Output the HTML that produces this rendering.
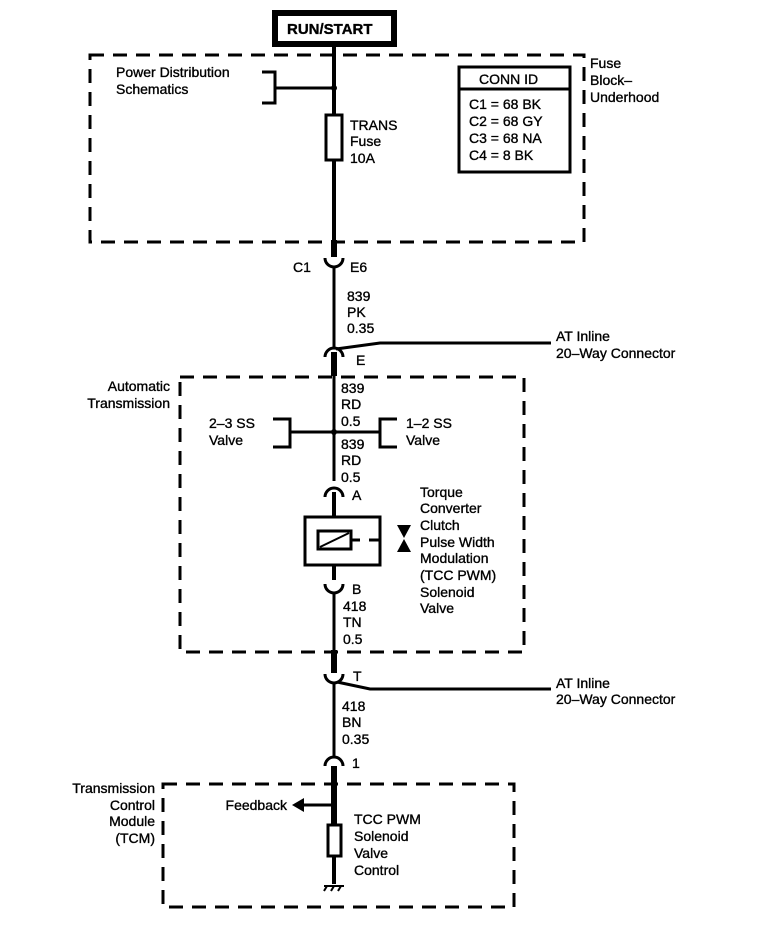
<!DOCTYPE html>
<html><head><style>
body{margin:0;background:#fff}
svg text{font-family:"Liberation Sans",Arial,sans-serif;font-size:14px;fill:#000;stroke:#000;stroke-width:0.35}
</style></head><body>
<svg width="768" height="920" viewBox="0 0 768 920" xmlns="http://www.w3.org/2000/svg">
<g fill="none" stroke="#000">
<rect x="275" y="13" width="119" height="31" stroke-width="6"/>
<rect x="90" y="55" width="494" height="187" stroke-width="3" stroke-dasharray="14,9"/>
<rect x="180" y="377" width="344" height="275" stroke-width="3" stroke-dasharray="14,9"/>
<rect x="163" y="784" width="351" height="123" stroke-width="3" stroke-dasharray="14,9"/>
<rect x="459" y="67" width="111" height="105" stroke-width="3"/>
<line x1="459" y1="89" x2="570" y2="89" stroke-width="3"/>
<line x1="334" y1="47" x2="334" y2="115" stroke-width="4"/>
<line x1="334" y1="160" x2="334" y2="257" stroke-width="4"/>
<line x1="334" y1="240" x2="334" y2="257" stroke-width="6"/>
<rect x="326" y="115" width="16" height="45" stroke-width="3"/>
<line x1="275" y1="88" x2="334" y2="88" stroke-width="3"/>
<polyline points="262,72 275,72 275,103 262,103" stroke-width="3"/>
<path d="M325,258 A9,9 0 0 0 343,258" stroke-width="3"/>
<line x1="334" y1="267" x2="334" y2="348" stroke-width="3"/>
<path d="M325,357 A9,9 0 0 1 343,357" stroke-width="3"/>
<polyline points="336,349 380,343 551,343" stroke-width="3"/>
<line x1="334" y1="352" x2="334" y2="376" stroke-width="6"/>
<line x1="334" y1="376" x2="334" y2="481" stroke-width="3"/>
<line x1="290" y1="432" x2="380" y2="432" stroke-width="3"/>
<polyline points="273,419 290,419 290,447 273,447" stroke-width="3"/>
<polyline points="397,419 380,419 380,447 397,447" stroke-width="3"/>
<path d="M325,497 A9,9 0 0 1 343,497" stroke-width="3"/>
<line x1="334" y1="492" x2="334" y2="580" stroke-width="4"/>
<rect x="305" y="517" width="75" height="48" stroke-width="3" fill="#fff"/>
<rect x="318" y="531" width="33" height="18" stroke-width="3" fill="#fff"/>
<line x1="320" y1="547" x2="349" y2="533" stroke-width="2"/>
<line x1="351" y1="540" x2="360" y2="540" stroke-width="3"/>
<line x1="369" y1="540" x2="380" y2="540" stroke-width="3"/>
<path d="M325,584 A9,9 0 0 0 343,584" stroke-width="3"/>
<line x1="334" y1="593" x2="334" y2="655" stroke-width="3"/>
<line x1="334" y1="650" x2="334" y2="673" stroke-width="6"/>
<path d="M325,674 A9,9 0 0 0 343,674" stroke-width="3"/>
<polyline points="337,682 370,689 551,689" stroke-width="3"/>
<line x1="334" y1="683" x2="334" y2="758" stroke-width="3"/>
<path d="M325,766 A9,9 0 0 1 343,766" stroke-width="3"/>
<line x1="334" y1="766" x2="334" y2="825" stroke-width="6"/>
<line x1="334" y1="786" x2="334" y2="825" stroke-width="4"/>
<line x1="300" y1="805" x2="334" y2="805" stroke-width="3"/>
<rect x="328" y="825" width="13" height="31" stroke-width="3"/>
<line x1="334" y1="856" x2="334" y2="884" stroke-width="4"/>
<line x1="324" y1="886" x2="344" y2="886" stroke-width="2"/>
<line x1="327" y1="886" x2="324" y2="891" stroke-width="2"/>
<line x1="334" y1="886" x2="331" y2="891" stroke-width="2"/>
<line x1="341" y1="886" x2="338" y2="891" stroke-width="2"/>
</g>
<g fill="#000">
<circle cx="334" cy="88" r="3"/>
<circle cx="334" cy="432" r="3"/>
<circle cx="334" cy="805" r="3"/>
<polygon points="292,805 304,798 304,812"/>
<polygon points="397,525 411,525 404,538"/>
<polygon points="397,552 411,552 404,539"/>
</g>
<text x="287" y="34" font-weight="bold" style="font-size:15px">RUN/START</text>
<text x="116" y="77">Power Distribution</text>
<text x="116" y="94">Schematics</text>
<text x="350" y="130">TRANS</text>
<text x="350" y="146">Fuse</text>
<text x="350" y="163">10A</text>
<text x="479" y="84">CONN ID</text>
<text x="469" y="109">C1 = 68 BK</text>
<text x="469" y="126">C2 = 68 GY</text>
<text x="469" y="143">C3 = 68 NA</text>
<text x="469" y="160">C4 = 8 BK</text>
<text x="590" y="68">Fuse</text>
<text x="590" y="85">Block–</text>
<text x="590" y="102">Underhood</text>
<text x="293" y="272">C1</text>
<text x="350" y="272">E6</text>
<text x="347" y="301">839</text>
<text x="347" y="317">PK</text>
<text x="347" y="333">0.35</text>
<text x="556" y="341">AT Inline</text>
<text x="556" y="358">20–Way Connector</text>
<text x="356" y="365">E</text>
<text x="170" y="391" text-anchor="end">Automatic</text>
<text x="170" y="408" text-anchor="end">Transmission</text>
<text x="341" y="393">839</text>
<text x="341" y="409">RD</text>
<text x="341" y="426">0.5</text>
<text x="341" y="449">839</text>
<text x="341" y="465">RD</text>
<text x="341" y="482">0.5</text>
<text x="209" y="428">2–3 SS</text>
<text x="209" y="445">Valve</text>
<text x="406" y="428">1–2 SS</text>
<text x="406" y="445">Valve</text>
<text x="352" y="500">A</text>
<text x="420" y="497">Torque</text>
<text x="420" y="513">Converter</text>
<text x="420" y="530">Clutch</text>
<text x="420" y="547">Pulse Width</text>
<text x="420" y="563">Modulation</text>
<text x="420" y="580">(TCC PWM)</text>
<text x="420" y="597">Solenoid</text>
<text x="420" y="613">Valve</text>
<text x="352" y="594">B</text>
<text x="343" y="611">418</text>
<text x="343" y="627">TN</text>
<text x="343" y="644">0.5</text>
<text x="353" y="681">T</text>
<text x="556" y="688">AT Inline</text>
<text x="556" y="704">20–Way Connector</text>
<text x="342" y="711">418</text>
<text x="342" y="727">BN</text>
<text x="342" y="744">0.35</text>
<text x="352" y="768">1</text>
<text x="155" y="793" text-anchor="end">Transmission</text>
<text x="155" y="810" text-anchor="end">Control</text>
<text x="155" y="826" text-anchor="end">Module</text>
<text x="155" y="843" text-anchor="end">(TCM)</text>
<text x="287" y="810" text-anchor="end">Feedback</text>
<text x="354" y="824">TCC PWM</text>
<text x="354" y="841">Solenoid</text>
<text x="354" y="858">Valve</text>
<text x="354" y="875">Control</text>
</svg>
</body></html>
